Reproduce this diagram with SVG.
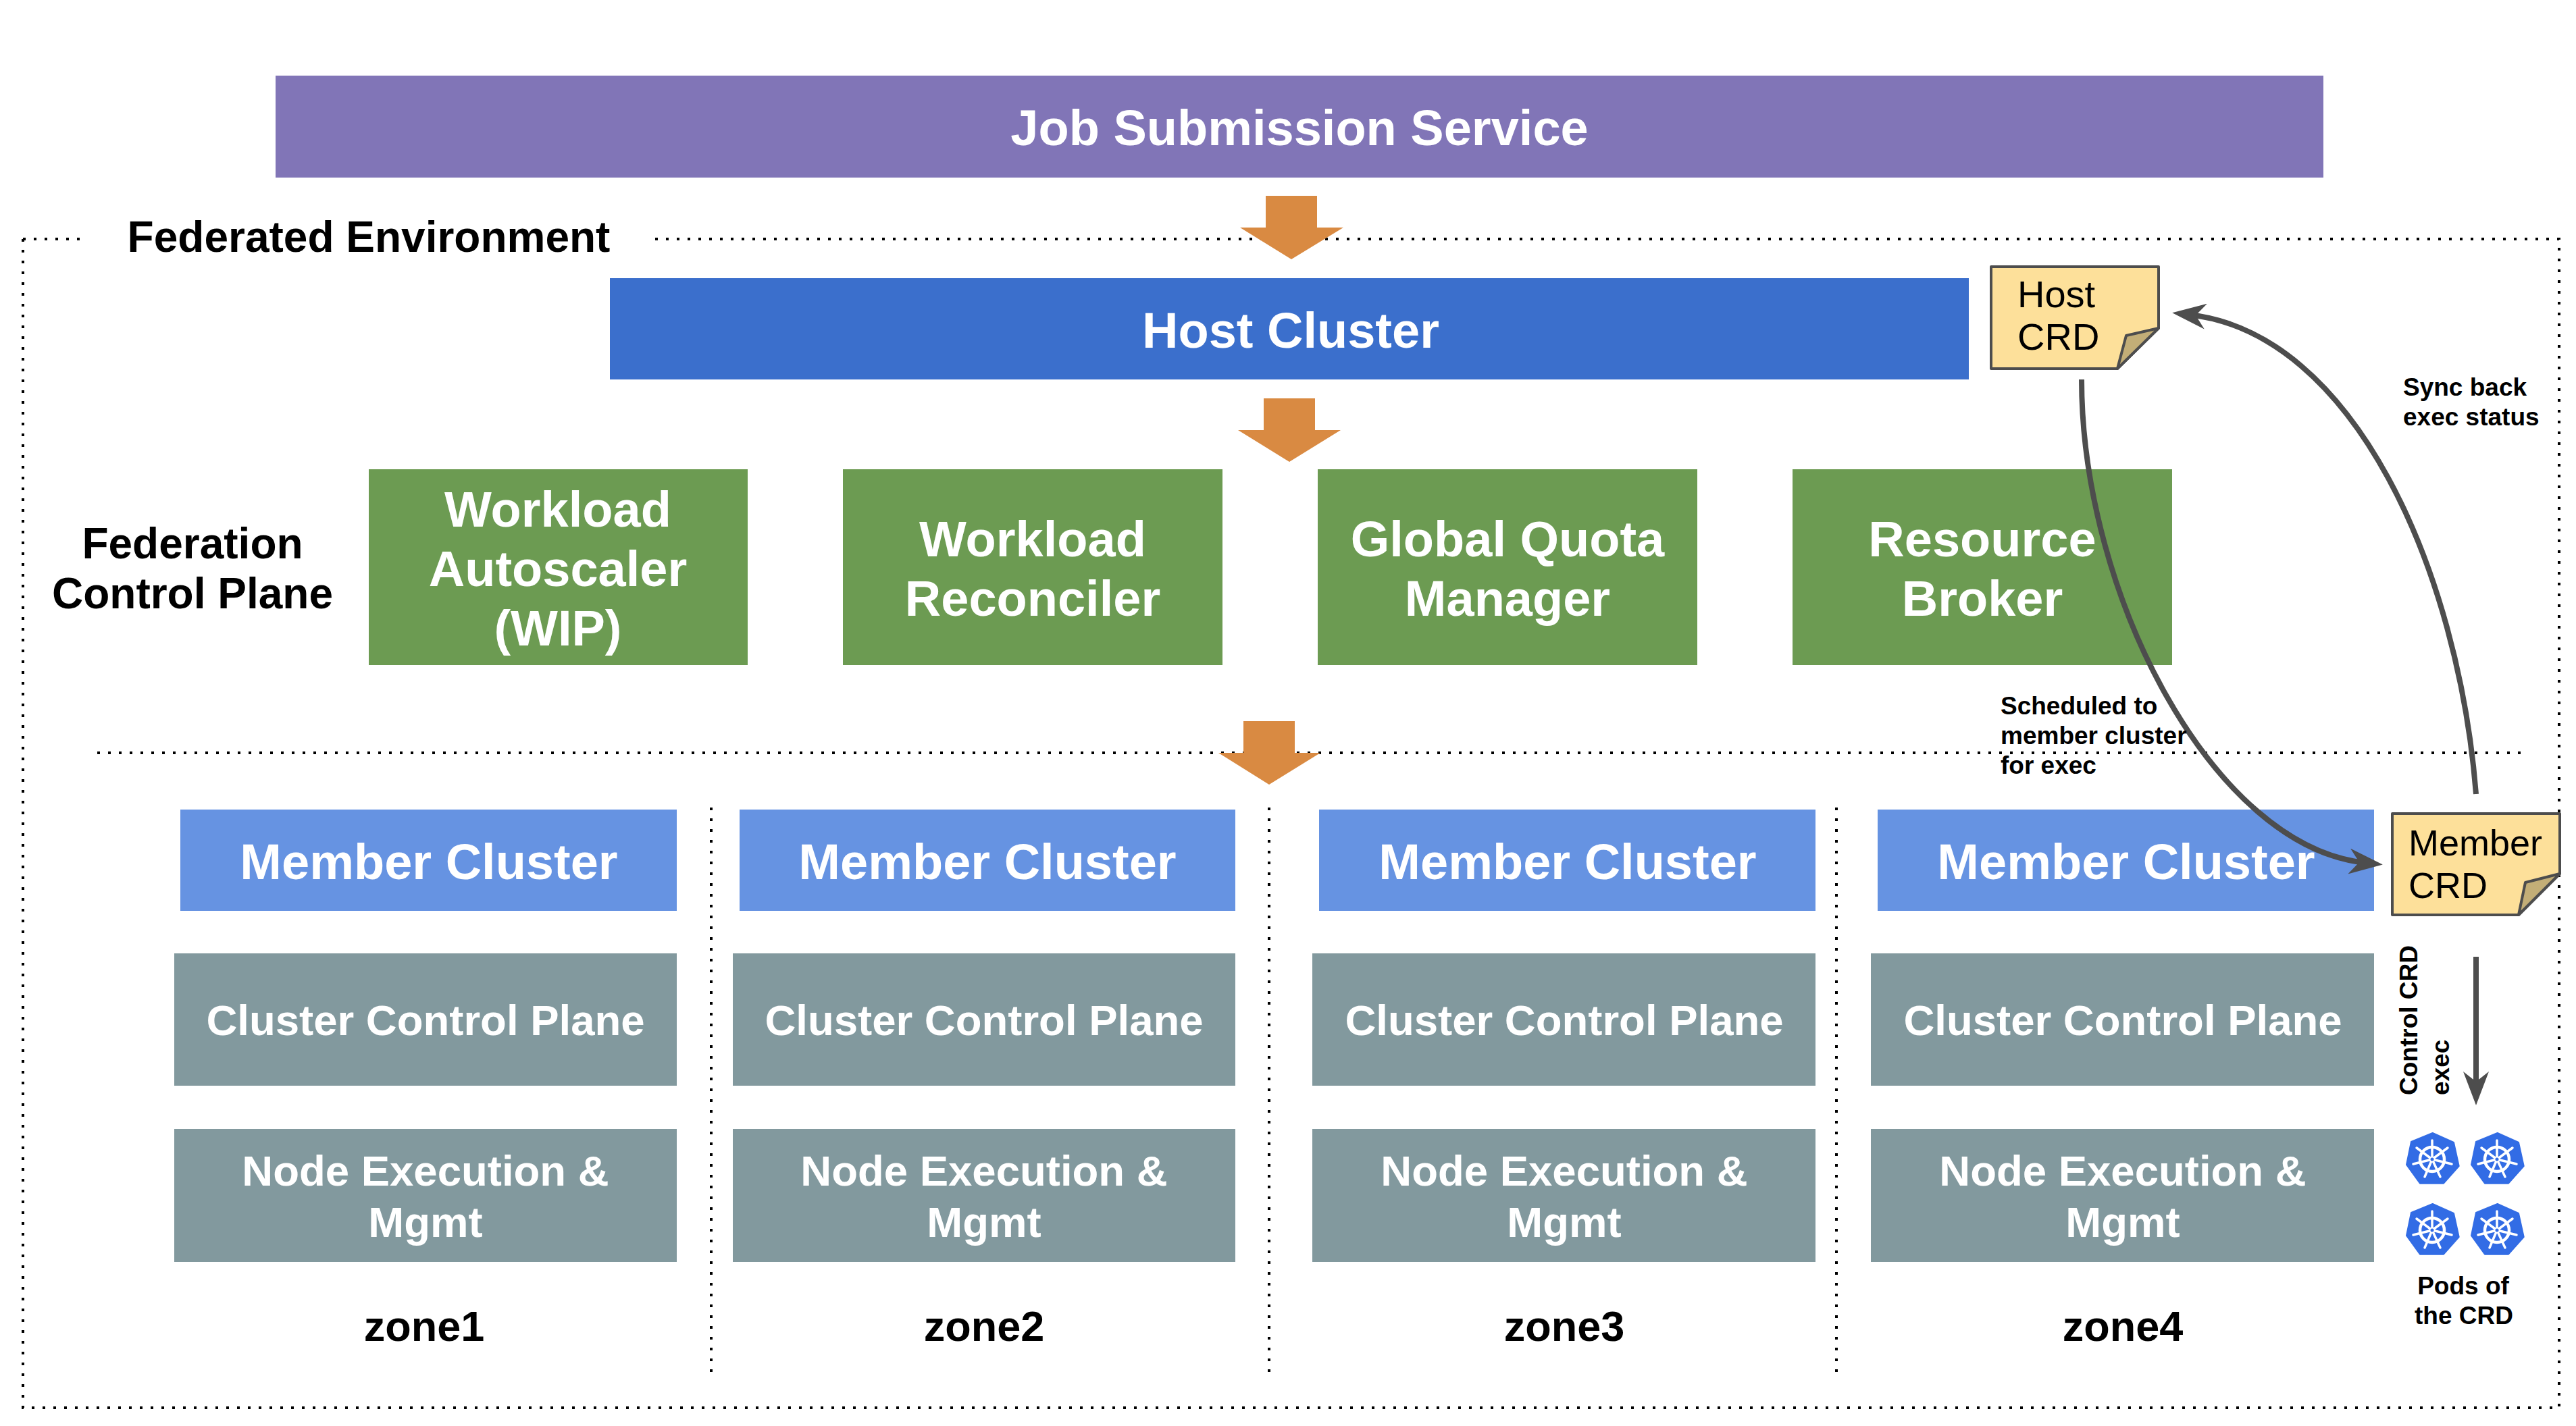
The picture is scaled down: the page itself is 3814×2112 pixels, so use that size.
<svg xmlns="http://www.w3.org/2000/svg" width="3814" height="2112" viewBox="0 0 3814 2112">
<style>
text{font-family:"Liberation Sans",Arial,sans-serif;font-weight:bold;text-anchor:middle}
.w{fill:#fff}.k{fill:#000}
.dot{fill:none;stroke:#000;stroke-width:4;stroke-dasharray:4 12}
.cv{fill:none;stroke:#4d4d4d;stroke-width:8}
.ar{fill:#d98a42}
.t1{font-size:74px}.t3{font-size:63.500px}.t4{font-size:64px}.t6{font-size:63px}.t5{font-size:37px;text-anchor:start}.t7{font-size:37px}
.crd{font-size:56px;font-weight:normal;text-anchor:start}
.crdm{font-size:54px;font-weight:normal;text-anchor:start}
.note{fill:#fde09a;stroke:#4d4d4d;stroke-width:4;stroke-linejoin:round}
.fold{fill:#c3ae77;stroke:#4d4d4d;stroke-width:4;stroke-linejoin:round}
.purple{fill:#8175b7}.host{fill:#3b6fcc}.green{fill:#6c9b52}.member{fill:#6693e2}.grey{fill:#82999e}
</style>
<defs>
<g id="k8s">
<path d="M39.700 1 L71 15 L78.700 50 L56 75.700 L21 75.700 L1 48 L8 14 Z" fill="#326ce5" stroke="#326ce5" stroke-width="2" stroke-linejoin="round"/>
<g fill="none" stroke="#fff" stroke-width="3.500" stroke-linecap="round" transform="translate(39 40)">
<circle r="18" stroke-width="4.500"/>
<path d="M0-28V0M23-17L0 0M29 7L0 0M12 26L0 0M-11 26L0 0M-28 7L0 0M-23-17L0 0"/>
<circle r="4.500" fill="#fff" stroke="none"/>
<circle r="2.500" fill="#326ce5" stroke="none"/>
</g>
</g>
<marker id="ah" viewBox="0 0 50 38" refX="25" refY="19" markerUnits="userSpaceOnUse" markerWidth="50" markerHeight="38" orient="auto"><path d="M50 19L0 0 15 19 0 38Z" fill="#4d4d4d"/></marker>
</defs>
<g id="boundaries">
<path class="dot" d="M34 354H120M970 354H3789V2085H34V354"/>
<path class="dot" d="M144 1115H3733"/>
<path class="dot" d="M1053 1196V2032M1879 1196V2032M2719 1196V2032"/>
</g>
<g id="job-submission"><rect class="purple" x="408" y="112" width="3032" height="151"/><text class="w t1" x="1924" y="215">Job Submission Service</text></g>
<g id="host-cluster"><rect class="host" x="903" y="412" width="2012" height="150"/><text class="w t1" x="1911" y="515">Host Cluster</text></g>
<g id="federated-label"><text class="k t4" x="546" y="373">Federated Environment</text></g>
<g id="fcp-label"><text class="k t4" x="285" y="827">Federation</text><text class="k t4" x="285" y="901">Control Plane</text></g>
<g id="workload-autoscaler"><rect class="green" x="546" y="695" width="561" height="290"/><text class="w t1" x="826" y="780">Workload</text><text class="w t1" x="826" y="868">Autoscaler</text><text class="w t1" x="826" y="956">(WIP)</text></g>
<g id="workload-reconciler"><rect class="green" x="1248" y="695" width="562" height="290"/><text class="w t1" x="1529" y="824">Workload</text><text class="w t1" x="1529" y="912">Reconciler</text></g>
<g id="global-quota"><rect class="green" x="1951" y="695" width="562" height="290"/><text class="w t1" x="2232" y="824">Global Quota</text><text class="w t1" x="2232" y="912">Manager</text></g>
<g id="resource-broker"><rect class="green" x="2654" y="695" width="562" height="290"/><text class="w t1" x="2935" y="824">Resource</text><text class="w t1" x="2935" y="912">Broker</text></g>
<g id="zone1"><rect class="member" x="267" y="1199" width="735" height="150"/><text class="w t1" x="635" y="1302">Member Cluster</text><rect class="grey" x="258" y="1412" width="744" height="196"/><text class="w t3" x="630" y="1533">Cluster Control Plane</text><rect class="grey" x="258" y="1672" width="744" height="197"/><text class="w t3" x="630" y="1756">Node Execution &amp;</text><text class="w t3" x="630" y="1832">Mgmt</text><text class="k t6" x="628" y="1986">zone1</text></g>
<g id="zone2"><rect class="member" x="1095" y="1199" width="734" height="150"/><text class="w t1" x="1462" y="1302">Member Cluster</text><rect class="grey" x="1085" y="1412" width="744" height="196"/><text class="w t3" x="1457" y="1533">Cluster Control Plane</text><rect class="grey" x="1085" y="1672" width="744" height="197"/><text class="w t3" x="1457" y="1756">Node Execution &amp;</text><text class="w t3" x="1457" y="1832">Mgmt</text><text class="k t6" x="1457" y="1986">zone2</text></g>
<g id="zone3"><rect class="member" x="1953" y="1199" width="735" height="150"/><text class="w t1" x="2321" y="1302">Member Cluster</text><rect class="grey" x="1943" y="1412" width="745" height="196"/><text class="w t3" x="2316" y="1533">Cluster Control Plane</text><rect class="grey" x="1943" y="1672" width="745" height="197"/><text class="w t3" x="2316" y="1756">Node Execution &amp;</text><text class="w t3" x="2316" y="1832">Mgmt</text><text class="k t6" x="2316" y="1986">zone3</text></g>
<g id="zone4"><rect class="member" x="2780" y="1199" width="735" height="150"/><text class="w t1" x="3148" y="1302">Member Cluster</text><rect class="grey" x="2770" y="1412" width="745" height="196"/><text class="w t3" x="3143" y="1533">Cluster Control Plane</text><rect class="grey" x="2770" y="1672" width="745" height="197"/><text class="w t3" x="3143" y="1756">Node Execution &amp;</text><text class="w t3" x="3143" y="1832">Mgmt</text><text class="k t6" x="3143" y="1986">zone4</text></g>
<g id="flow-arrows">
<path class="ar" d="M1874 290H1950V337H1989L1912 384 1836 337H1874Z"/>
<path class="ar" d="M1871 590H1947V637H1985L1909 684 1833 637H1871Z"/>
<path class="ar" d="M1841 1068H1917V1115H1955L1879 1162 1804 1115H1841Z"/>
</g>
<g id="host-crd"><path class="note" d="M2948 395H3196V486L3135 546H2948Z"/><path class="fold" d="M3196 486L3148 497 3135 546Z"/><text class="crd" x="2987" y="455">Host</text><text class="crd" x="2987" y="518">CRD</text></g>
<g id="member-crd"><path class="note" d="M3542 1205H3790V1294L3729 1355H3542Z"/><path class="fold" d="M3790 1294L3739 1307 3729 1355Z"/><text class="crdm" x="3566" y="1267">Member</text><text class="crdm" x="3566" y="1330">CRD</text></g>
<g id="connectors">
<path class="cv" marker-end="url(#ah)" d="M3082 562C3082 882 3278 1255.500 3503 1278"/>
<path class="cv" marker-end="url(#ah)" d="M3666 1176C3640 846 3486 493 3241 466"/>
<path class="cv" marker-end="url(#ah)" d="M3666 1417V1612"/>
</g>
<g id="labels">
<text class="k t5" x="3558" y="586">Sync back</text><text class="k t5" x="3558" y="630">exec status</text>
<text class="k t5" x="2962" y="1058">Scheduled to</text><text class="k t5" x="2962" y="1102">member cluster</text><text class="k t5" x="2962" y="1146">for exec</text>
<text class="k t5" transform="translate(3579 1622) rotate(-90)">Control CRD</text>
<text class="k t5" transform="translate(3626 1622) rotate(-90)">exec</text>
<text class="k t7" x="3647" y="1917">Pods of</text><text class="k t7" x="3648" y="1961">the CRD</text>
</g>
<g id="pods">
<use href="#k8s" x="3562" y="1677"/><use href="#k8s" x="3658" y="1677"/><use href="#k8s" x="3562" y="1782"/><use href="#k8s" x="3658" y="1782"/>
</g>
</svg>
